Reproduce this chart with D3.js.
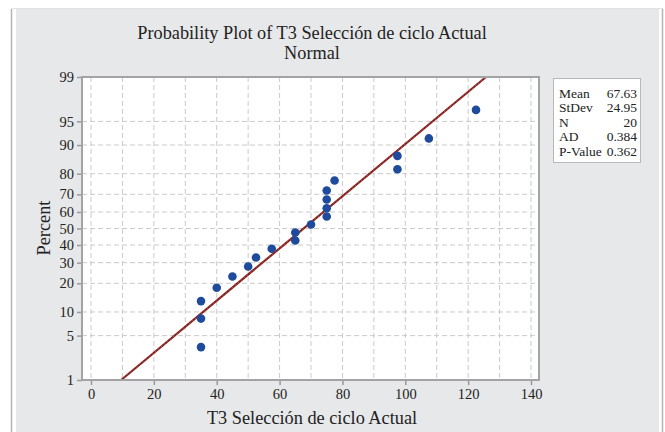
<!DOCTYPE html>
<html>
<head>
<meta charset="utf-8">
<script src="https://cdn.jsdelivr.net/npm/d3@7"></script>
<style>
  body { margin: 0; background: #fff; }
  svg text { font-family: "Liberation Serif", "DejaVu Serif", serif; fill: #222; }
</style>
</head>
<body>
<div id="chart"></div>
<script>
// observed values (sorted) and their plotted percents
var values = [35, 35, 35, 40, 45, 50, 52.5, 57.5, 65, 65, 70, 75, 75, 75, 75, 77.5, 97.5, 97.5, 107.5, 122.5];
var percents = [3.43, 8.33, 13.24, 18.14, 23.04, 27.94, 32.84, 37.75, 42.65, 47.55,
                52.45, 57.35, 62.25, 67.16, 72.06, 76.96, 81.86, 86.76, 91.67, 96.57];

// fitted normal line end points
var fitX = [9.59, 125.67];
var fitPct = [1, 99];

var xTicks = [0, 20, 40, 60, 80, 100, 120, 140];
var xGrid = [0, 10, 20, 30, 40, 50, 60, 70, 80, 90, 100, 110, 120, 130, 140];
var yTicks = [1, 5, 10, 20, 30, 40, 50, 60, 70, 80, 90, 95, 99];

var statLabels = ["Mean", "StDev", "N", "AD", "P-Value"];
var statValues = ["67.63", "24.95", "20", "0.384", "0.362"];

// inverse normal cdf (Acklam)
function probit(p) {
    var a = [-39.69683028665376, 220.9460984245205, -275.9285104469687, 138.3577518672690, -30.66479806614716, 2.506628277459239];
    var b = [-54.47609879822406, 161.5858368580409, -155.6989798598866, 66.80131188771972, -13.28068155288572];
    var c = [-0.007784894002430293, -0.3223964580411365, -2.400758277161838, -2.549732539343734, 4.374664141464968, 2.938163982698783];
    var d = [0.007784695709041462, 0.3224671290700398, 2.445134137142996, 3.754408661907416];
    var pl = 0.02425, q, r;
    if (p < pl) {
        q = Math.sqrt(-2 * Math.log(p));
        return (((((c[0]*q+c[1])*q+c[2])*q+c[3])*q+c[4])*q+c[5]) / ((((d[0]*q+d[1])*q+d[2])*q+d[3])*q+1);
    }
    if (p > 1 - pl) {
        q = Math.sqrt(-2 * Math.log(1 - p));
        return -(((((c[0]*q+c[1])*q+c[2])*q+c[3])*q+c[4])*q+c[5]) / ((((d[0]*q+d[1])*q+d[2])*q+d[3])*q+1);
    }
    q = p - 0.5; r = q * q;
    return (((((a[0]*r+a[1])*r+a[2])*r+a[3])*r+a[4])*r+a[5])*q / (((((b[0]*r+b[1])*r+b[2])*r+b[3])*r+b[4])*r+1);
}

var W = 665, H = 432;
var plot = {left: 82, top: 77, right: 539, bottom: 380};

var svg = d3.select("#chart").append("svg")
    .attr("width", W)
    .attr("height", H);

// panel background + thin border lines
svg.append("rect").attr("x", 16).attr("y", 9).attr("width", 643).attr("height", H - 9).attr("fill", "#e7e8ea");
svg.append("line").attr("x1", 11.5).attr("x2", 11.5).attr("y1", 9).attr("y2", H).attr("stroke", "#b4b4b4").attr("stroke-width", 1.5);
svg.append("line").attr("x1", 11.5).attr("x2", 663).attr("y1", 8.5).attr("y2", 8.5).attr("stroke", "#e2e2e2").attr("stroke-width", 1);
svg.append("line").attr("x1", 662.5).attr("x2", 662.5).attr("y1", 9).attr("y2", H).attr("stroke", "#b4b4b4").attr("stroke-width", 1.5);

var x = d3.scaleLinear()
    .domain([(plot.left - 91) / 3.143, (plot.right - 91) / 3.143])
    .range([plot.left, plot.right]);

var y = d3.scaleLinear()
    .domain([probit(0.01), probit(0.99)])
    .range([plot.bottom, plot.top]);

function yp(pct) { return y(probit(pct / 100)); }

// plot area
svg.append("rect")
    .attr("x", plot.left).attr("y", plot.top)
    .attr("width", plot.right - plot.left).attr("height", plot.bottom - plot.top)
    .attr("fill", "#fff");

// grid
svg.append("g").selectAll("line")
    .data(xGrid)
    .enter().append("line")
    .attr("x1", function(d) { return x(d); }).attr("x2", function(d) { return x(d); })
    .attr("y1", plot.top).attr("y2", plot.bottom)
    .attr("stroke", "#cacaca").attr("stroke-width", 1).attr("stroke-dasharray", "5,3");

svg.append("g").selectAll("line")
    .data(yTicks.slice(1, -1))
    .enter().append("line")
    .attr("x1", plot.left).attr("x2", plot.right)
    .attr("y1", function(d) { return yp(d); }).attr("y2", function(d) { return yp(d); })
    .attr("stroke", "#cacaca").attr("stroke-width", 1).attr("stroke-dasharray", "5,3");

// fit line
svg.append("line")
    .attr("x1", x(fitX[0])).attr("y1", yp(fitPct[0]))
    .attr("x2", x(fitX[1])).attr("y2", yp(fitPct[1]))
    .attr("stroke", "#86221f").attr("stroke-width", 2.2);
svg.append("line")
    .attr("x1", x(fitX[0])).attr("y1", yp(fitPct[0]))
    .attr("x2", x(fitX[1])).attr("y2", yp(fitPct[1]))
    .attr("stroke", "#c0605a").attr("stroke-width", 1).attr("stroke-dasharray", "1,3");

// points
svg.append("g").selectAll("circle")
    .data(values)
    .enter().append("circle")
    .attr("cx", function(d) { return x(d); })
    .attr("cy", function(d, i) { return yp(percents[i]); })
    .attr("r", 4.3)
    .attr("fill", "#1f4b9c");

// axes
var xAxis = svg.append("g")
    .attr("transform", "translate(0," + plot.bottom + ")")
    .call(d3.axisBottom(x).tickValues(xTicks).tickSize(5).tickPadding(4));
var yAxis = svg.append("g")
    .attr("transform", "translate(" + plot.left + ",0)")
    .call(d3.axisLeft(y).tickValues(yTicks.map(function(p) { return probit(p / 100); }))
        .tickFormat(function(d, i) { return yTicks[i]; }).tickSize(5).tickPadding(3));

[xAxis, yAxis].forEach(function(a) {
    a.select(".domain").remove();
    a.selectAll(".tick line").attr("stroke", "#999").attr("stroke-width", 1.5);
    a.selectAll("text").style("font-family", "Liberation Serif, serif").style("font-size", "14.5px").attr("fill", "#222");
});

// frame
svg.append("rect")
    .attr("x", plot.left).attr("y", plot.top)
    .attr("width", plot.right - plot.left).attr("height", plot.bottom - plot.top)
    .attr("fill", "none").attr("stroke", "#a3a3a3").attr("stroke-width", 2);

// titles
svg.append("text").attr("x", 312).attr("y", 39).attr("text-anchor", "middle")
    .style("font-size", "18.3px").text("Probability Plot of T3 Selección de ciclo Actual");
svg.append("text").attr("x", 312).attr("y", 59).attr("text-anchor", "middle")
    .style("font-size", "18.3px").text("Normal");
svg.append("text").attr("x", 312).attr("y", 424).attr("text-anchor", "middle")
    .style("font-size", "18.3px").text("T3 Selección de ciclo Actual");
svg.append("text").attr("transform", "translate(50,228) rotate(-90)").attr("text-anchor", "middle")
    .style("font-size", "18.3px").text("Percent");

// stats box
svg.append("rect").attr("x", 553.5).attr("y", 78.5).attr("width", 87).attr("height", 84)
    .attr("fill", "#fff").attr("stroke", "#b8b8b8").attr("stroke-width", 1);
var rows = svg.append("g").selectAll("g")
    .data(statLabels)
    .enter().append("g")
    .attr("transform", function(d, i) { return "translate(0," + (97.5 + i * 14.5) + ")"; });
rows.append("text").attr("x", 559).style("font-size", "13.5px").text(function(d) { return d; });
rows.append("text").attr("x", 637).attr("text-anchor", "end").style("font-size", "13.5px")
    .text(function(d, i) { return statValues[i]; });
</script>
</body>
</html>
